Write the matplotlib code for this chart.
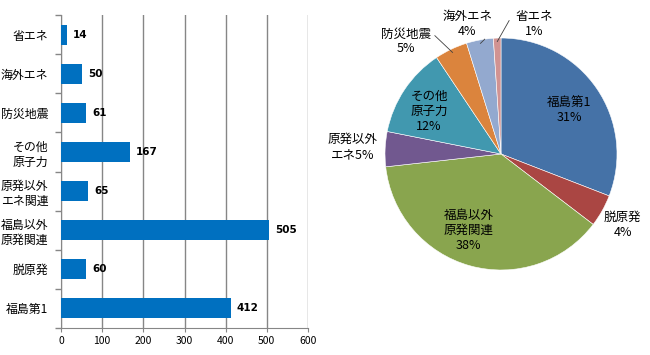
import matplotlib
matplotlib.use("Agg")
import matplotlib.pyplot as plt
import numpy as np

plt.rcParams['font.family'] = ['Noto Sans CJK JP', 'DejaVu Sans']

# ---- data ----
categories = ["福島第1", "脱原発", "福島以外\n原発関連", "原発以外\nエネ関連",
              "その他\n原子力", "防災地震", "海外エネ", "省エネ"]
values = [412, 60, 505, 65, 167, 61, 50, 14]
xticks = [0, 100, 200, 300, 400, 500, 600]

pie_names = ["福島第1", "脱原発", "福島以外\n原発関連", "原発以外\nエネ",
             "その他\n原子力", "防災地震", "海外エネ", "省エネ"]
pie_pcts = ["31%", "4%", "38%", "5%", "12%", "5%", "4%", "1%"]
pie_colors = ["#4572A7", "#AA4643", "#89A54E", "#71588F",
              "#4198AF", "#DB843D", "#93A9CF", "#D19392"]

fig = plt.figure(figsize=(6.5, 3.55), dpi=100)

# ---- bar chart ----
ax = fig.add_axes([61/650, 27/355, 247/650, 313/355])
y = np.arange(len(categories))
ax.barh(y, values, height=0.51, color="#0070C0", zorder=3)
ax.set_xlim(0, 600)
ax.set_ylim(-0.5, len(categories) - 0.5)
ax.set_xticks(xticks)
ax.set_xticklabels([str(t) for t in xticks], fontsize=7.5)
ax.set_yticks(y)
ax.set_yticklabels(categories, fontsize=8.6, linespacing=1.25)
ax.set_yticks(np.arange(len(categories) + 1) - 0.5, minor=True)
ax.tick_params(axis='y', which='major', length=0, pad=9)
ax.tick_params(axis='y', which='minor', length=4, color="#868686", width=1)
ax.tick_params(axis='x', length=3, color="#868686", pad=3)
ax.grid(axis='x', color="#868686", linewidth=1, zorder=0)
for s in ["top", "right"]:
    ax.spines[s].set_visible(False)
for s in ["left", "bottom"]:
    ax.spines[s].set_color("#868686")
for yi, v in zip(y, values):
    ax.annotate(str(v), (v, yi), xytext=(4.5, 0), textcoords='offset points',
                va='center', ha='left', fontsize=7.5, fontweight='bold',
                family=['DejaVu Sans'], zorder=4)

# ---- pie chart ----
ax2 = fig.add_axes([385/650, 85/355, 232/650, 232/355])
wedges, _ = ax2.pie(values, colors=pie_colors, startangle=90, counterclock=False,
                    wedgeprops=dict(edgecolor='white', linewidth=0.4))
ax2.set_xlim(-1, 1)
ax2.set_ylim(-1, 1)
ax2.set_aspect('equal')

label_pos = [(0.59, 0.38), (1.05, -0.61), (-0.28, -0.66), (-1.28, 0.06),
             (-0.62, 0.37), (-0.82, 0.97), (-0.29, 1.12), (0.29, 1.12)]
for i, (name, pct) in enumerate(zip(pie_names, pie_pcts)):
    x0, y0 = label_pos[i]
    if i == 3:
        txt = "原発以外\nエネ" + pct
    else:
        txt = name + "\n" + pct
    ax2.text(x0, y0, txt, ha='center', va='center', fontsize=9,
             linespacing=1.2, color='black')

# leader lines for small slices
def edge_point(w, r=0.97):
    ang = np.deg2rad((w.theta1 + w.theta2) / 2)
    return r * np.cos(ang), r * np.sin(ang)

leaders = {5: (-0.57, 1.02), 6: (-0.14, 0.99), 7: (0.07, 1.15)}
for i, (lx, ly) in leaders.items():
    ex, ey = edge_point(wedges[i])
    ax2.plot([lx, ex], [ly, ey], color='#404040', linewidth=0.6, clip_on=False)

fig.savefig("out.png", dpi=100)
